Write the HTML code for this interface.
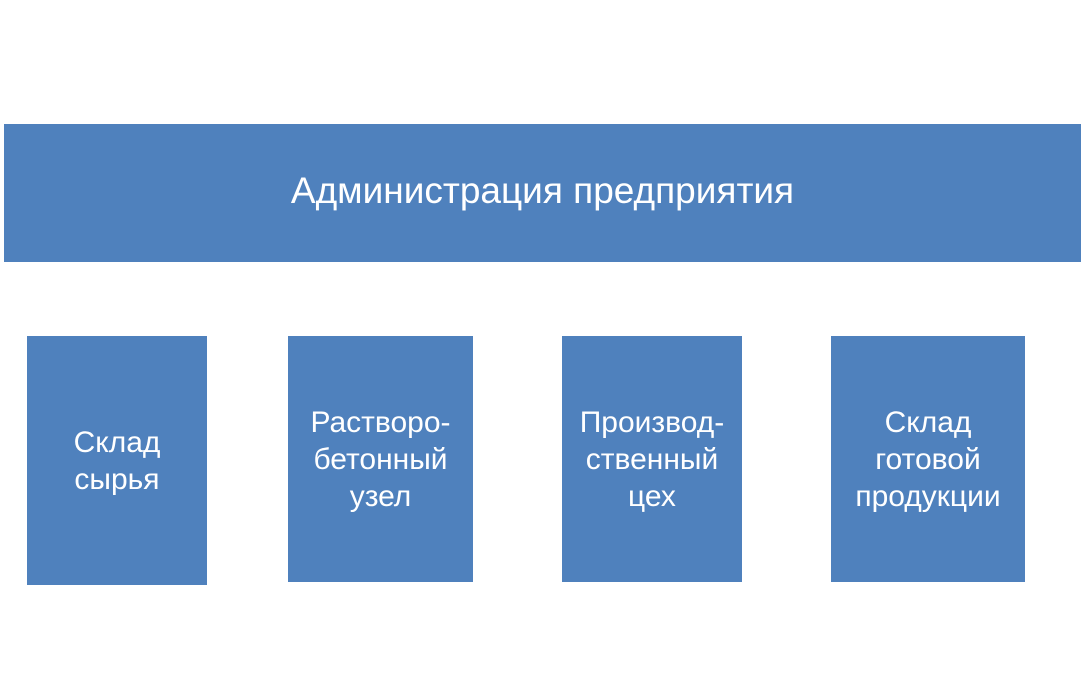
<!DOCTYPE html>
<html><head><meta charset="utf-8"><style>
html,body{margin:0;padding:0;width:1085px;height:677px;background:#fff;overflow:hidden}
.b{position:absolute;background:#4f81bd;color:#fff;font-family:"Liberation Sans","DejaVu Sans",sans-serif;display:flex;align-items:center;justify-content:center;text-align:center}
.s{font-size:30px;line-height:37px}
</style></head><body>
<div class="b" style="left:4px;top:124px;width:1077px;height:138px;font-size:37px;padding-bottom:4px;box-sizing:border-box">Администрация предприятия</div>
<div class="b s" style="left:27px;top:336px;width:180px;height:249px">Склад<br>сырья</div>
<div class="b s" style="left:288px;top:336px;width:185px;height:246px">Растворо-<br>бетонный<br>узел</div>
<div class="b s" style="left:562px;top:336px;width:180px;height:246px">Производ-<br>ственный<br>цех</div>
<div class="b s" style="left:831px;top:336px;width:194px;height:246px">Склад<br>готовой<br>продукции</div>
</body></html>
